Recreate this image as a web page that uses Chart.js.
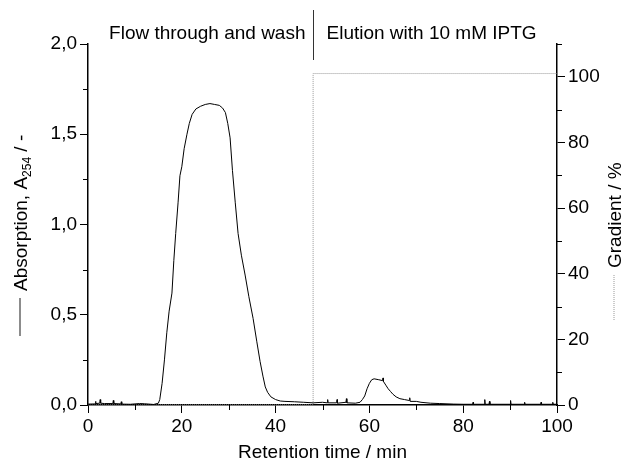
<!DOCTYPE html>
<html>
<head>
<meta charset="utf-8">
<script src="https://cdn.jsdelivr.net/npm/chart.js@4"></script>
<style>
  html, body { margin: 0; padding: 0; background: #fff; }
  #wrap { width: 624px; height: 468px; }
</style>
</head>
<body>
<div id="wrap"><canvas id="chart" width="624" height="468"></canvas></div>
<script>
// Absorption trace (retention time in min, A254)
const absTime = [0, 1.5, 1.6, 1.7, 2.5, 2.6, 2.7, 3.5, 5.3, 5.4, 5.5, 7, 7.1, 7.2, 9, 11, 12, 14,
  15, 15.3, 15.8, 16.3, 16.8, 17.3, 17.9, 18.3, 18.7, 19.2, 19.6, 20.0, 20.5, 21.1, 21.6, 22.2,
  23, 24, 25, 26, 27, 28, 28.7, 29.3, 29.8, 30.3, 30.8, 31.4, 32.0, 32.7, 33.5, 34.3, 35.2, 36.0,
  36.7, 37.3, 37.8, 38.3, 39.0, 40, 41, 42, 44, 46, 48, 50, 51, 51.1, 51.2, 53, 53.1, 53.2,
  55, 55.1, 55.2, 57, 58, 58.5, 59, 59.5, 60, 60.5, 61, 62, 62.8, 62.9, 63, 63.5, 64, 64.5, 65,
  65.7, 66.5, 67.5, 68.5, 68.6, 68.7, 70, 71, 73, 75, 78, 80, 82, 82.1, 82.2, 84.5, 84.6, 84.7,
  85.5, 85.6, 85.7, 90, 90.1, 90.2, 93, 93.1, 93.2, 96.5, 96.6, 96.7, 99, 99.1, 99.2, 100];
const absValue = [0.005, 0.006, 0.02, 0.008, 0.01, 0.03, 0.01, 0.008, 0.008, 0.025, 0.008, 0.006, 0.018, 0.005, 0.004, 0.008, 0.007, 0.003,
  0.01, 0.03, 0.12, 0.25, 0.40, 0.52, 0.62, 0.80, 0.95, 1.12, 1.27, 1.32, 1.42, 1.50, 1.56, 1.61,
  1.64, 1.655, 1.665, 1.67, 1.665, 1.66, 1.645, 1.62, 1.56, 1.48, 1.30, 1.12, 0.95, 0.83, 0.72, 0.60, 0.48, 0.35,
  0.24, 0.16, 0.10, 0.07, 0.045, 0.03, 0.022, 0.02, 0.018, 0.015, 0.012, 0.015, 0.012, 0.03, 0.012, 0.012, 0.03, 0.01,
  0.015, 0.035, 0.012, 0.01, 0.015, 0.03, 0.05, 0.09, 0.12, 0.14, 0.145, 0.14, 0.135, 0.15, 0.13, 0.11, 0.09, 0.075, 0.06,
  0.045, 0.035, 0.03, 0.025, 0.04, 0.02, 0.02, 0.015, 0.01, 0.008, 0.005, 0.004, 0.004, 0.015, 0.004, 0.004, 0.03, 0.004,
  0.004, 0.02, 0.004, 0.004, 0.025, 0.004, 0.004, 0.015, 0.004, 0.004, 0.015, 0.004, 0.004, 0.015, 0.004, 0.004];

// Gradient (% elution buffer)
const gradTime = [0, 48, 48, 100];
const gradValue = [0, 0, 101, 101];

const switchTime = 48;
const leftText = "Flow through and wash";
const rightText = "Elution with 10 mM IPTG";

const FONT = '"Liberation Sans", Arial, sans-serif';
const FS = 19;

function comma(v) { return v.toFixed(1).replace(".", ","); }

// axis titles, header texts and minor ticks
const decor = {
  id: "decor",
  afterDraw(chart) {
    const ctx = chart.ctx;
    const x = chart.scales.x, y = chart.scales.y, y2 = chart.scales.y2;
    const area = chart.chartArea;
    ctx.save();
    ctx.strokeStyle = "#000";
    ctx.lineWidth = 1;
    // minor ticks
    [10, 30, 50, 70, 90].forEach(v => {
      const px = Math.round(x.getPixelForValue(v)) + 0.5;
      ctx.beginPath(); ctx.moveTo(px, area.bottom); ctx.lineTo(px, area.bottom + 5); ctx.stroke();
    });
    [0.25, 0.75, 1.25, 1.75].forEach(v => {
      const py = Math.round(y.getPixelForValue(v)) + 0.5;
      ctx.beginPath(); ctx.moveTo(area.left - 5, py); ctx.lineTo(area.left, py); ctx.stroke();
    });
    [10, 30, 50, 70, 90, 110].forEach(v => {
      const py = Math.round(y2.getPixelForValue(v)) + 0.5;
      ctx.beginPath(); ctx.moveTo(area.right, py); ctx.lineTo(area.right + 5, py); ctx.stroke();
    });

    // header
    const sx = Math.round(x.getPixelForValue(switchTime)) + 0.5;
    ctx.strokeStyle = "#333";
    ctx.beginPath(); ctx.moveTo(sx, 10); ctx.lineTo(sx, 60); ctx.stroke();
    ctx.fillStyle = "#000";
    ctx.font = FS + "px " + FONT;
    ctx.textBaseline = "alphabetic";
    ctx.textAlign = "right";
    ctx.fillText(leftText, sx - 8, 39);
    ctx.textAlign = "left";
    ctx.fillText(rightText, sx + 13, 39);

    // x title
    ctx.textAlign = "center";
    ctx.fillText("Retention time / min", (area.left + area.right) / 2, 458);

    // left title with line sample
    ctx.save();
    ctx.translate(27, 0);
    ctx.rotate(-Math.PI / 2);
    ctx.strokeStyle = "#666";
    ctx.lineWidth = 1.5;
    ctx.beginPath(); ctx.moveTo(-336, -7); ctx.lineTo(-298, -7); ctx.stroke();
    let pos = -291;
    ctx.textAlign = "left";
    ctx.font = FS + "px " + FONT;
    const p1 = "Absorption, A";
    ctx.fillText(p1, pos, 0); pos += ctx.measureText(p1).width;
    ctx.font = "12px " + FONT;
    ctx.fillText("254", pos, 4); pos += ctx.measureText("254").width;
    ctx.font = FS + "px " + FONT;
    ctx.fillText(" / -", pos, 0);
    ctx.restore();

    // right title with dotted sample
    ctx.save();
    ctx.translate(621, 0);
    ctx.rotate(-Math.PI / 2);
    ctx.strokeStyle = "#999";
    ctx.lineWidth = 1;
    ctx.setLineDash([1, 1]);
    ctx.beginPath(); ctx.moveTo(-320, -7); ctx.lineTo(-275, -7); ctx.stroke();
    ctx.setLineDash([]);
    ctx.font = FS + "px " + FONT;
    ctx.textAlign = "left";
    ctx.fillText("Gradient / %", -268, 0);
    ctx.restore();
    ctx.restore();
  }
};

new Chart(document.getElementById("chart"), {
  type: "line",
  data: {
    datasets: [
      {
        label: "Absorption",
        data: absTime.map((t, i) => ({ x: t, y: absValue[i] })),
        yAxisID: "y",
        borderColor: "#000",
        borderWidth: 1,
        pointRadius: 0,
        tension: 0
      },
      {
        label: "Gradient",
        data: gradTime.map((t, i) => ({ x: t, y: gradValue[i] })),
        yAxisID: "y2",
        borderColor: "#999",
        borderWidth: 1,
        borderDash: [1, 1],
        pointRadius: 0,
        tension: 0
      }
    ]
  },
  options: {
    responsive: false,
    animation: false,
    layout: { padding: { top: 44 } },
    plugins: { legend: { display: false }, tooltip: { enabled: false } },
    scales: {
      x: {
        type: "linear",
        min: 0, max: 100,
        ticks: { stepSize: 20, color: "#000", font: { size: FS, family: FONT }, padding: 2 },
        grid: { drawOnChartArea: false, tickLength: 8, color: "#000" },
        border: { color: "#000", width: 1.5 },
        afterFit(s) { s.height = 63; }
      },
      y: {
        position: "left",
        min: 0, max: 2,
        ticks: { stepSize: 0.5, color: "#000", font: { size: FS, family: FONT }, padding: 3, callback: v => comma(v) },
        grid: { drawOnChartArea: false, tickLength: 8, color: "#000" },
        border: { color: "#000", width: 1.5 },
        afterFit(s) { s.width = 88; }
      },
      y2: {
        position: "right",
        min: 0, max: 110,
        ticks: { stepSize: 20, includeBounds: false, color: "#000", font: { size: FS, family: FONT }, padding: 3 },
        grid: { drawOnChartArea: false, tickLength: 8, color: "#000" },
        border: { color: "#000", width: 1.5 },
        afterFit(s) { s.width = 67; }
      }
    }
  },
  plugins: [decor]
});
</script>
</body>
</html>
